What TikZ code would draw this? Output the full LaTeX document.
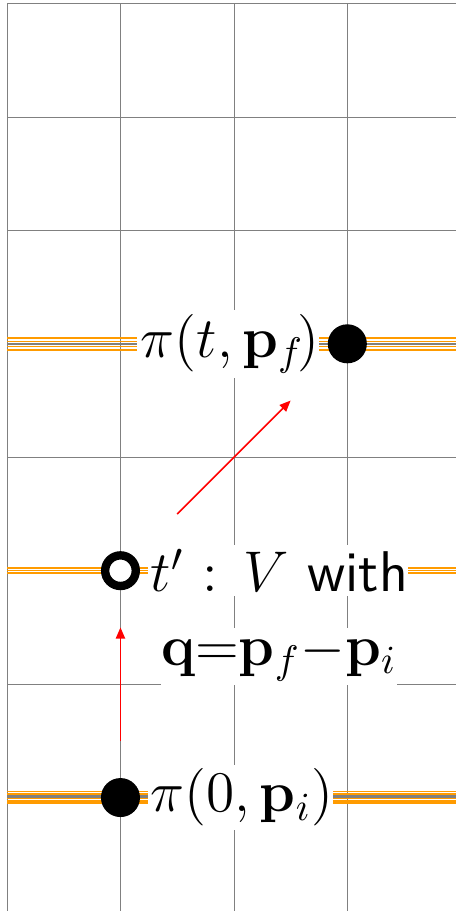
\documentclass[tikz,border=0pt]{standalone}
\usepackage{amsmath}
\usepackage{xcolor}
\usetikzlibrary{arrows.meta, positioning}
\definecolor{quarkor}{RGB}{255,155,0}

\begin{document}
\begin{tikzpicture}[
  vtx/.style={circle, fill=black, inner sep=0pt, minimum size=3.44mm},
  opvtx/.style={circle, draw=black, line width=2.1pt, fill=white, inner sep=0pt, minimum size=2.7mm},
  lbl/.style={fill=white, inner xsep=0pt, inner ysep=1pt, font=\Large},
  qline/.style={quarkor, line width=0.4pt},
  gline/.style={gray, line width=0.6pt},
  mom/.style={-{Triangle[length=2.8pt, width=2.3pt]}, red, line width=0.4pt}
]
\clip (-0.062,0) rectangle (3.956,8.031);
\draw[help lines] (0,0) grid (4,8);

% particle lines
\coordinate (iniL) at (0,1); \coordinate (iniR) at (4,1);
\coordinate (vertL) at (0,3); \coordinate (vertR) at (4,3);
\coordinate (finL) at (0,5); \coordinate (finR) at (4,5);
\foreach \d in {0.053,0.03,-0.007,-0.03,-0.05}
  \draw[qline] ([yshift=\d cm]iniL) -- ([yshift=\d cm]iniR);
\draw[gline] ([yshift=0.011cm]iniL) -- ([yshift=0.011cm]iniR);
\foreach \d in {0.022,0,-0.018}
  \draw[qline] ([yshift=\d cm]vertL) -- ([yshift=\d cm]vertR);
\foreach \d in {0.05,0.021,-0.024,-0.053}
  \draw[qline] ([yshift=\d cm]finL) -- ([yshift=\d cm]finR);
\draw[gline] (finL) -- (finR);

% momentum arrows
\coordinate (k1a) at (1,1.5); \coordinate (k1b) at (1,2.5);
\coordinate (k2a) at (1.5,3.5); \coordinate (k2b) at (2.5,4.5);
\draw[mom] (k1a) -- (k1b);
\draw[mom] (k2a) -- (k2b);

% vertices
\node[vtx] (ini) at (1,1) {};
\node[opvtx] (vert) at (1,3) {};
\node[vtx] (fin) at (3,5) {};

\node[lbl, right=0.6mm of ini] (inilbl) {\hspace{0.6pt}$\pi(0,\mathbf{p}_i)$\hspace{2pt}};
\node[lbl, right=0.6mm of vert] (vertlbl) {\hspace{0.8pt}$t'$ : $V$ \textsf{with}\hspace{2.75pt}};
\node[lbl, below left=2.6mm and 2.75pt of vertlbl.south east] (qlbl) {$\mathbf{q}{=}\mathbf{p}_f{-}\mathbf{p}_i$};
\node[lbl, left=0.6mm of fin] (finlbl) {\hspace{1pt}$\pi(t,\mathbf{p}_f\mkern-2mu)$};
\end{tikzpicture}
\end{document}
